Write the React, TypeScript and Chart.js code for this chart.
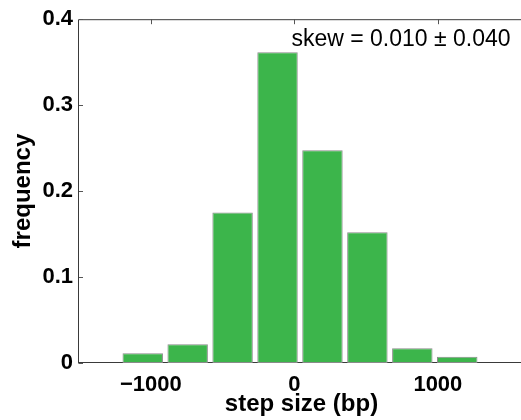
import React, { useEffect, useRef } from "react";
import { Chart, registerables } from "chart.js";

Chart.register(...registerables);

// Histogram bin centers (bp) and frequencies
const binCenters = [-1369, -1056, -743, -430, -117, 196, 509, 822, 1135, 1448];
const frequencies = [0, 0.0113, 0.0218, 0.175, 0.3616, 0.2475, 0.152, 0.0171, 0.0073, 0];
const xTickValues = [-1000, 0, 1000];
const yTickValues = [0, 0.1, 0.2, 0.3, 0.4];
const annotationText = "skew = 0.010 \u00B1 0.040";
const xTitle = "step size (bp)";
const yTitle = "frequency";

const FONT = '"Liberation Sans", Arial, Helvetica, sans-serif';
const CANVAS_W = 540;
const CANVAS_H = 420;

const framePlugin = {
  id: "frame",
  beforeDatasetsDraw(chart: any) {
    const { ctx, chartArea, scales } = chart;
    const { left, right, top, bottom } = chartArea;
    ctx.save();
    ctx.strokeStyle = "#3a3a3a";
    ctx.lineWidth = 1;
    ctx.beginPath();
    ctx.moveTo(left - 0.5, bottom + 0.5);
    ctx.lineTo(left - 0.5, top + 0.5);
    ctx.lineTo(right, top + 0.5);
    ctx.moveTo(left - 0.5, bottom - 0.5);
    ctx.lineTo(right, bottom - 0.5);
    ctx.stroke();
    // inward ticks
    ctx.strokeStyle = "#555";
    ctx.beginPath();
    for (const v of xTickValues) {
      const px = Math.round(scales.x.getPixelForValue(v)) + 0.5;
      ctx.moveTo(px, top);
      ctx.lineTo(px, top + 5);
      ctx.moveTo(px, bottom);
      ctx.lineTo(px, bottom - 5);
    }
    for (const v of yTickValues) {
      const py = Math.round(scales.y.getPixelForValue(v)) + 0.5;
      ctx.moveTo(left, py);
      ctx.lineTo(left + 4, py);
    }
    ctx.stroke();
    ctx.restore();
  },
  afterDraw(chart: any) {
    const { ctx, chartArea, scales } = chart;
    ctx.save();
    ctx.fillStyle = "#000";
    ctx.font = `23px ${FONT}`;
    ctx.textAlign = "left";
    ctx.textBaseline = "alphabetic";
    ctx.fillText(annotationText, scales.x.getPixelForValue(-20), chartArea.top + 27);
    ctx.restore();
  },
};

export default function App() {
  const ref = useRef<HTMLCanvasElement | null>(null);

  useEffect(() => {
    if (!ref.current) return;
    const chart = new Chart(ref.current, {
      type: "bar",
      data: {
        datasets: [
          {
            data: binCenters.map((x, i) => ({ x, y: frequencies[i] })),
            backgroundColor: "#3cb54b",
            borderColor: "#8a8a8a",
            borderWidth: 1,
            borderSkipped: false,
            barPercentage: 0.9,
            categoryPercentage: 1,
          },
        ],
      },
      options: {
        responsive: false,
        animation: false,
        devicePixelRatio: 1,
        layout: { padding: { left: 0, right: CANVAS_W - 524, top: 19, bottom: 0 } },
        plugins: { legend: { display: false }, tooltip: { enabled: false } },
        scales: {
          x: {
            type: "linear",
            min: -1500,
            max: 1600,
            offset: false,
            grid: { display: false, drawTicks: false, offset: false },
            border: { display: false },
            afterBuildTicks: (s: any) => {
              s.ticks = xTickValues.map((v) => ({ value: v }));
            },
            afterFit: (s: any) => {
              s.height = 57;
            },
            ticks: {
              padding: 9,
              color: "#000",
              font: { family: FONT, size: 22, weight: "bold" },
              callback: (v: any) => (Number(v) < 0 ? "\u2212" + Math.abs(Number(v)) : String(v)),
            },
            title: {
              display: true,
              text: xTitle,
              color: "#000",
              font: { family: FONT, size: 24, weight: "bold" },
              padding: { top: 0, bottom: 1 },
            },
          },
          y: {
            min: 0,
            max: 0.4,
            grid: { display: false, drawTicks: false },
            border: { display: false },
            afterBuildTicks: (s: any) => {
              s.ticks = yTickValues.map((v) => ({ value: v }));
            },
            afterFit: (s: any) => {
              s.width = 79;
            },
            ticks: {
              padding: 6,
              color: "#000",
              font: { family: FONT, size: 22, weight: "bold" },
              callback: (v: any) => String(Math.round(Number(v) * 10) / 10),
            },
            title: {
              display: true,
              text: yTitle,
              color: "#000",
              font: { family: FONT, size: 24, weight: "bold" },
              padding: { top: 9, bottom: 0 },
            },
          },
        },
      },
      plugins: [framePlugin],
    });
    return () => chart.destroy();
  }, []);

  return (
    <div
      style={{
        position: "fixed",
        left: 0,
        top: 0,
        width: 521,
        height: 420,
        overflow: "hidden",
        background: "#fff",
      }}
    >
      <canvas
        ref={ref}
        width={CANVAS_W}
        height={CANVAS_H}
        style={{ display: "block", width: CANVAS_W, height: CANVAS_H }}
      />
    </div>
  );
}
